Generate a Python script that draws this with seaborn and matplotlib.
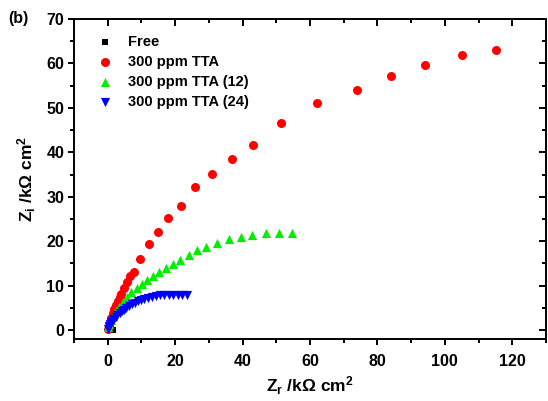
import matplotlib
matplotlib.use("Agg")
import matplotlib.pyplot as plt
from matplotlib.ticker import MultipleLocator, NullFormatter
import pandas as pd
import seaborn as sns

# Nyquist data (Zr, Zi in kOhm cm^2)
free_zr = [0.1, 0.3, 0.5, 0.7, 0.9, 1.1, 1.3, 1.5]
free_zi = [0.05, 0.1, 0.15, 0.2, 0.2, 0.15, 0.1, 0.05]

tta_zr = [0.1, 0.3, 0.6, 1.0, 1.5, 2.0, 2.5, 3.0, 3.5, 4.0, 4.8, 5.6, 6.5, 7.8,
          9.6, 12.1, 14.8, 17.8, 21.6, 25.9, 30.9, 36.9, 43.1, 51.5, 62.2,
          73.8, 83.9, 94.0, 105.0, 115.2]
tta_zi = [0.3, 1.0, 1.8, 2.8, 3.8, 4.8, 5.7, 6.6, 7.4, 8.2, 9.5, 10.9, 12.2, 13.1,
          16.0, 19.4, 22.1, 25.2, 27.9, 32.2, 35.1, 38.6, 41.7, 46.5, 51.0,
          54.1, 57.1, 59.7, 61.8, 63.0]

tta12_zr = [0.2, 0.5, 1.0, 1.6, 2.4, 3.3, 4.4, 5.6, 7.0, 8.6, 10.2, 11.8, 13.5,
            15.3, 17.3, 19.4, 21.4, 24.2, 26.5, 29.3, 32.3, 36.0, 39.5, 42.9,
            46.9, 50.9, 54.6]
tta12_zi = [0.6, 1.4, 2.3, 3.2, 4.2, 5.2, 6.3, 7.4, 8.5, 9.5, 10.4, 11.3, 12.2,
            13.0, 14.0, 14.9, 15.8, 16.8, 18.0, 18.6, 19.5, 20.4, 21.0, 21.5,
            21.8, 21.9, 21.8]

tta24_zr = [0.1, 0.3, 0.5, 0.8, 1.1, 1.5, 1.9, 2.4, 2.9, 3.5, 4.1, 4.8, 5.5, 6.3,
            7.1, 8.0, 8.9, 9.9, 10.9, 12.0, 13.1, 14.3, 15.5, 16.8, 18.1, 19.4,
            20.7, 22.0, 23.4]
tta24_zi = [0.2, 0.6, 1.0, 1.4, 1.8, 2.2, 2.6, 3.0, 3.4, 3.8, 4.2, 4.6, 5.0, 5.4,
            5.8, 6.2, 6.5, 6.8, 7.1, 7.3, 7.5, 7.7, 7.8, 7.9, 8.0, 8.0,
            8.0, 7.9, 7.9]

series_names = ["Free", "300 ppm TTA", "300 ppm TTA (12)", "300 ppm TTA (24)"]
series_colors = ["#000000", "#ff0000", "#00ee00", "#0000ff"]
series_markers = ["s", "o", "^", "v"]
series_sizes = [22, 42, 44, 44]

frames = []
for name, zr, zi in zip(series_names,
                        [free_zr, tta_zr, tta12_zr, tta24_zr],
                        [free_zi, tta_zi, tta12_zi, tta24_zi]):
    frames.append(pd.DataFrame({"Zr": zr, "Zi": zi, "series": name}))
df = pd.concat(frames, ignore_index=True)

sns.set_style("ticks")
plt.rcParams["font.family"] = ["Liberation Sans", "DejaVu Sans"]
plt.rcParams["font.weight"] = "bold"
plt.rcParams["mathtext.default"] = "regular"
for key in ["text.color", "axes.labelcolor", "xtick.color", "ytick.color",
            "axes.edgecolor"]:
    plt.rcParams[key] = "black"

XLIM = (-10, 130)
YLIM = (-2, 70)

fig = plt.figure(figsize=(5.48, 4.01), dpi=100)
ax = fig.add_axes([74 / 548, 1 - 339 / 401, 472 / 548, 320 / 401])

for name, col, mk, sz in zip(series_names, series_colors, series_markers, series_sizes):
    sns.scatterplot(data=df[df["series"] == name], x="Zr", y="Zi", ax=ax,
                    color=col, marker=mk, s=sz, linewidth=0, label=name,
                    zorder=3)

ax.set_xlim(*XLIM)
ax.set_ylim(*YLIM)
ax.xaxis.set_major_locator(MultipleLocator(20))
ax.xaxis.set_minor_locator(MultipleLocator(10))
ax.yaxis.set_major_locator(MultipleLocator(10))
ax.yaxis.set_minor_locator(MultipleLocator(5))

for side in ["top", "right", "bottom", "left"]:
    ax.spines[side].set_visible(True)
    ax.spines[side].set_linewidth(1.4)
    ax.spines[side].set_color("black")

ax.tick_params(which="both", direction="out", bottom=True, left=True,
               top=False, right=False, width=1.4, colors="black",
               labelsize=11.5)
ax.tick_params(which="major", length=4.5)
ax.tick_params(which="minor", length=3)
ax.tick_params(axis="x", which="major", pad=6)
ax.tick_params(axis="y", which="major", pad=2.5)

# mirrored inward ticks on the top and right edges
ax_top = ax.twiny()
ax_top.set_xlim(*XLIM)
ax_top.xaxis.set_major_locator(MultipleLocator(20))
ax_top.xaxis.set_minor_locator(MultipleLocator(10))
ax_top.xaxis.set_major_formatter(NullFormatter())
ax_top.tick_params(which="both", direction="in", width=1.4, colors="black",
                   top=True, bottom=False, labeltop=False)
ax_top.tick_params(which="major", length=5)
ax_top.tick_params(which="minor", length=3)
ax_top.grid(False)

ax_right = ax.twinx()
ax_right.set_ylim(*YLIM)
ax_right.yaxis.set_major_locator(MultipleLocator(10))
ax_right.yaxis.set_minor_locator(MultipleLocator(5))
ax_right.yaxis.set_major_formatter(NullFormatter())
ax_right.tick_params(which="both", direction="in", width=1.4, colors="black",
                     right=True, left=False, labelright=False)
ax_right.tick_params(which="major", length=5)
ax_right.tick_params(which="minor", length=3)
ax_right.grid(False)
for a in (ax_top, ax_right):
    for sp in a.spines.values():
        sp.set_visible(False)

for lab in ax.get_xticklabels() + ax.get_yticklabels():
    lab.set_fontweight("bold")

ax.set_xlabel("Z$_r$ /kΩ cm$^2$", fontsize=12.5, fontweight="bold", labelpad=4)
ax.set_ylabel("Z$_i$ /kΩ cm$^2$", fontsize=12.5, fontweight="bold", labelpad=6)

leg = ax.legend(loc="upper left", bbox_to_anchor=(0.017, 0.978), frameon=False,
                prop={"weight": "bold", "size": 10.5}, handletextpad=0.55,
                labelspacing=0.42, markerscale=1.0, borderaxespad=0.2)

fig.text(8 / 548, 1 - 19 / 401, "(b)", fontsize=11.5, fontweight="bold",
         va="center", ha="left")

fig.savefig("out.png", dpi=100)
